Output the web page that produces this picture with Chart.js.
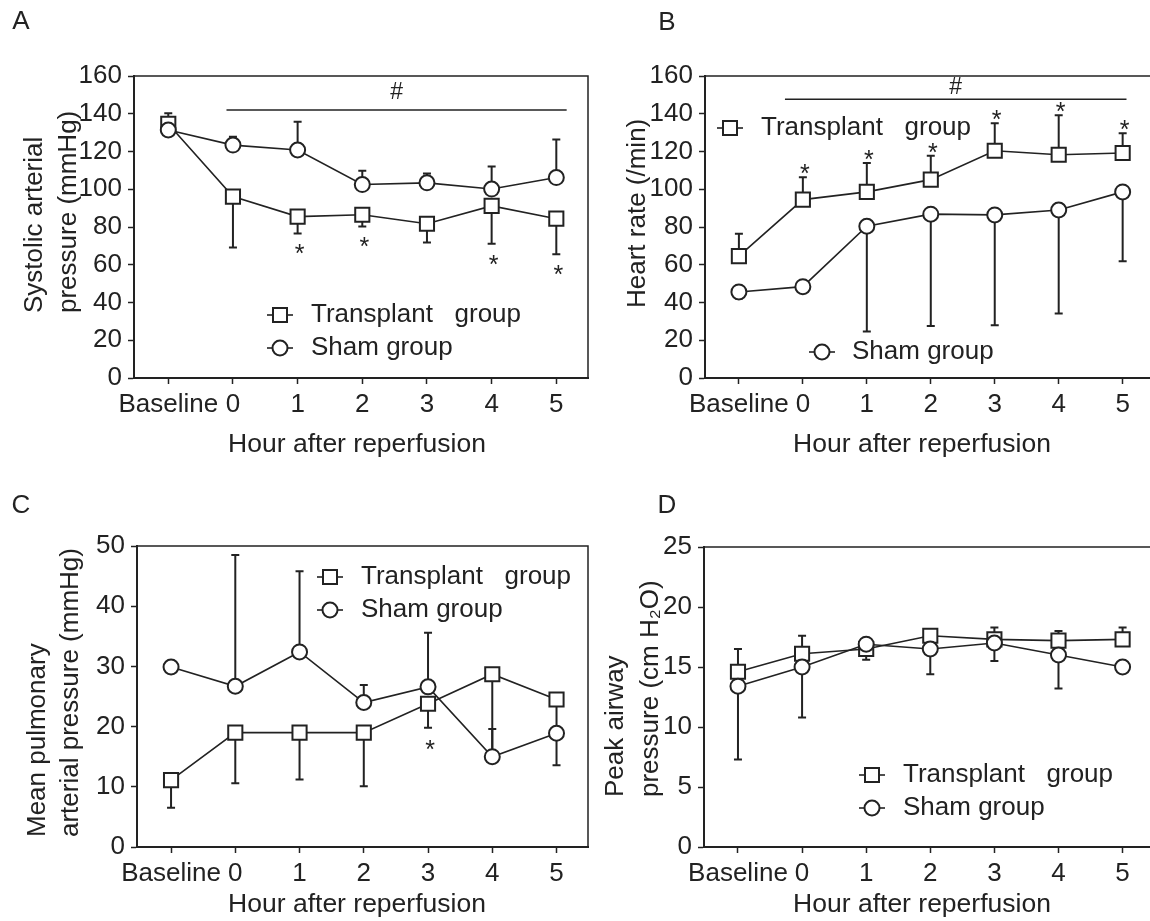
<!DOCTYPE html>
<html>
<head>
<meta charset="utf-8">
<script src="https://cdn.jsdelivr.net/npm/chart.js@4.4.1/dist/chart.umd.min.js"></script>
<style>
  html, body { margin: 0; padding: 0; background: #fff; width: 1150px; height: 921px; overflow: hidden; }
  canvas { position: absolute; }
</style>
</head>
<body>
<canvas id="pA" width="600" height="460" style="left:0;top:0"></canvas>
<canvas id="pB" width="600" height="460" style="left:575px;top:0"></canvas>
<canvas id="pC" width="600" height="461" style="left:0;top:460px"></canvas>
<canvas id="pD" width="600" height="461" style="left:575px;top:460px"></canvas>
<script>
const hours = ['Baseline', '0', '1', '2', '3', '4', '5'];

// mean values and one-sided SD (positive = bar drawn up, negative = down)
// A: systolic arterial pressure (mmHg)
const sapTransplant = [134.6, 96.1, 85.5, 86.5, 81.7, 91.2, 84.4];
const sapTransplantSd = [5.6, -26.9, -8.9, -6.2, -9.9, -20.1, -18.8];
const sapSham = [131.4, 123.4, 120.8, 102.5, 103.4, 100.1, 106.2];
const sapShamSd = [0, 4.4, 15.0, 7.3, 5.0, 11.9, 20.2];
const sapStars = [2, 3, 5, 6];

// B: heart rate (/min)
const hrTransplant = [64.6, 94.5, 98.6, 105.1, 120.4, 118.3, 119.2];
const hrTransplantSd = [11.8, 11.8, 15.3, 12.6, 14.6, 20.9, 10.5];
const hrSham = [45.6, 48.4, 80.4, 86.8, 86.4, 89.0, 98.6];
const hrShamSd = [-3.5, 0, -55.7, -59.2, -58.4, -54.8, -36.7];
const hrStars = [1, 2, 3, 4, 5, 6];

// C: mean pulmonary arterial pressure (mmHg)
const mpapTransplant = [11.1, 19.0, 19.0, 19.0, 23.8, 28.7, 24.5];
const mpapTransplantSd = [-4.6, -8.4, -7.8, -8.9, -4.0, -13.2, -5.5];
const mpapSham = [29.9, 26.7, 32.4, 24.0, 26.6, 15.0, 18.9];
const mpapShamSd = [0, 21.8, 13.4, 2.9, 9.0, 4.6, -5.3];
const mpapStars = [4];

// D: peak airway pressure (cm H2O)
const pawTransplant = [14.6, 16.1, 16.5, 17.6, 17.3, 17.2, 17.3];
const pawTransplantSd = [1.9, 1.5, -0.9, 0.5, 1.0, 0.8, 1.0];
const pawSham = [13.4, 15.0, 16.9, 16.5, 17.0, 16.0, 15.0];
const pawShamSd = [-6.1, -4.2, 0, -2.1, -1.5, -2.8, 0];

const INK = '#222';
const FONT = '"Liberation Sans", Arial, Helvetica, sans-serif';

const toPoints = vals => vals.map((v, i) => ({ x: i, y: v }));

function marker(ctx, style, x, y) {
  ctx.beginPath();
  if (style === 'rect') ctx.rect(x - 7, y - 7, 14, 14);
  else ctx.arc(x, y, 7.5, 0, Math.PI * 2);
  ctx.fillStyle = '#fff';
  ctx.fill();
  ctx.stroke();
}

// error bars, frame, significance marks, legend, titles
function decor(p) {
  const bars = [[p.trans, p.transSd], [p.sham, p.shamSd]];
  return {
    id: 'decor',
    beforeDatasetsDraw(chart) {
      const { ctx, scales: { x, y } } = chart;
      ctx.save();
      ctx.strokeStyle = INK;
      ctx.lineWidth = 2;
      bars.forEach(([vals, sds]) => vals.forEach((v, i) => {
        if (!sds[i]) return;
        const px = x.getPixelForValue(i);
        const p0 = y.getPixelForValue(v), p1 = y.getPixelForValue(v + sds[i]);
        ctx.beginPath();
        ctx.moveTo(px, p0); ctx.lineTo(px, p1);
        ctx.moveTo(px - 4, p1); ctx.lineTo(px + 4, p1);
        ctx.stroke();
      }));
      ctx.restore();
    },
    afterDraw(chart) {
      const { ctx, chartArea: a, scales: { x, y } } = chart;
      ctx.save();
      ctx.strokeStyle = INK;
      ctx.fillStyle = INK;

      // top / right frame
      ctx.lineWidth = 1.5;
      ctx.beginPath();
      ctx.moveTo(a.left, a.top); ctx.lineTo(a.right, a.top); ctx.lineTo(a.right, a.bottom);
      ctx.stroke();

      // # bar
      if (p.sig) {
        const x0 = x.getPixelForValue(p.sig.from), x1 = x.getPixelForValue(p.sig.to);
        const yy = y.getPixelForValue(p.sig.at);
        ctx.beginPath(); ctx.moveTo(x0, yy); ctx.lineTo(x1, yy); ctx.stroke();
        ctx.font = '23px ' + FONT;
        ctx.textAlign = 'center'; ctx.textBaseline = 'middle';
        ctx.fillText('#', (x0 + x1) / 2, yy - p.sig.gap);
      }

      // asterisks next to the transplant SD bars
      if (p.stars) {
        ctx.font = '25px ' + FONT;
        ctx.textAlign = 'center'; ctx.textBaseline = 'middle';
        p.stars.idx.forEach(i => {
          const sd = p.transSd[i];
          const end = y.getPixelForValue(p.trans[i] + sd);
          const yc = end + (sd < 0 ? p.stars.gap : -p.stars.gap);
          ctx.fillText('*', x.getPixelForValue(i) + 2, yc + 6);
        });
      }

      // legend
      ctx.font = '26px ' + FONT;
      ctx.textAlign = 'left'; ctx.textBaseline = 'middle';
      p.legend.forEach(e => {
        ctx.lineWidth = 1.6;
        ctx.beginPath(); ctx.moveTo(e.x - 13, e.y); ctx.lineTo(e.x + 13, e.y); ctx.stroke();
        ctx.lineWidth = 2;
        marker(ctx, e.style, e.x, e.y);
        ctx.fillStyle = INK;
        ctx.fillText(e.text, e.tx, e.y);
      });

      // x title
      ctx.font = '26.5px ' + FONT;
      ctx.textAlign = 'center'; ctx.textBaseline = 'alphabetic';
      ctx.fillText('Hour after reperfusion', p.xTitle.x, p.xTitle.y);

      // y title, lines start at the same height
      ctx.font = '26px ' + FONT;
      p.yTitle.lines.forEach((line, k) => {
        ctx.save();
        ctx.translate(p.yTitle.xs[k], p.yTitle.start);
        ctx.rotate(-Math.PI / 2);
        ctx.textAlign = 'left'; ctx.textBaseline = 'middle';
        ctx.fillText(line, 0, 0);
        ctx.restore();
      });

      // panel letter
      ctx.textAlign = 'center'; ctx.textBaseline = 'middle';
      ctx.fillText(p.letter.text, p.letter.x, p.letter.y);
      ctx.restore();
    }
  };
}

function panel(id, p) {
  const cv = document.getElementById(id);
  const yW = 64, xH = 45;
  const a = p.area;
  const tickFont = { family: FONT, size: 26 };
  const grid = { drawOnChartArea: false, drawTicks: true, tickLength: 6, tickWidth: 1.5, tickColor: INK };
  const border = { display: true, color: INK, width: 2 };
  const ds = (label, vals, style, radius, order) => ({
    label, data: toPoints(vals), order,
    borderColor: INK, borderWidth: 1.6, tension: 0, fill: false,
    pointStyle: style, pointRadius: radius, pointHoverRadius: radius,
    pointBorderWidth: 2, pointBorderColor: INK, pointBackgroundColor: '#fff'
  });
  return new Chart(cv, {
    type: 'line',
    data: {
      datasets: [
        ds('Transplant group', p.trans, 'rect', 10, 1),
        ds('Sham group', p.sham, 'circle', 7.5, 0)
      ]
    },
    options: {
      responsive: false,
      animation: false,
      events: [],
      layout: { padding: { left: a.left - yW, top: a.top, right: cv.width - a.right, bottom: cv.height - a.bottom - xH } },
      scales: {
        x: {
          type: 'linear', min: -0.53, max: 6.49,
          afterFit: s => { s.height = xH; },
          afterBuildTicks: s => { s.ticks = hours.map((_, i) => ({ value: i })); },
          grid, border,
          ticks: { callback: v => hours[v], autoSkip: false, maxRotation: 0, minRotation: 0, padding: 5, color: INK, font: tickFont }
        },
        y: {
          min: 0, max: p.yMax,
          afterFit: s => { s.width = yW; },
          grid, border,
          ticks: { stepSize: p.yStep, padding: 6, color: INK, font: tickFont }
        }
      },
      plugins: { legend: { display: false }, tooltip: { enabled: false } }
    },
    plugins: [decor(p)]
  });
}

const TX = 'Transplant\u00a0\u00a0 group';
const SH = 'Sham group';

panel('pA', {
  trans: sapTransplant, transSd: sapTransplantSd, sham: sapSham, shamSd: sapShamSd,
  yMax: 160, yStep: 20,
  area: { left: 134, right: 590, top: 76, bottom: 378 },
  sig: { from: 0.9, to: 6.16, at: 142, gap: 17 },
  stars: { idx: sapStars, gap: 16 },
  legend: [
    { style: 'rect', text: TX, x: 280, y: 315, tx: 311 },
    { style: 'circle', text: SH, x: 280, y: 348, tx: 311 }
  ],
  xTitle: { x: 357, y: 452 },
  yTitle: { lines: ['Systolic arterial', 'pressure (mmHg)'], xs: [35, 69], start: 313 },
  letter: { text: 'A', x: 21, y: 22 }
});

panel('pB', {
  trans: hrTransplant, transSd: hrTransplantSd, sham: hrSham, shamSd: hrShamSd,
  yMax: 160, yStep: 20,
  area: { left: 130, right: 579, top: 76, bottom: 378 },
  sig: { from: 0.72, to: 6.06, at: 147.7, gap: 12 },
  stars: { idx: hrStars, gap: 8 },
  legend: [
    { style: 'rect', text: TX, x: 155, y: 128, tx: 186 },
    { style: 'circle', text: SH, x: 247, y: 352, tx: 277 }
  ],
  xTitle: { x: 347, y: 452 },
  yTitle: { lines: ['Heart rate (/min)'], xs: [63], start: 308 },
  letter: { text: 'B', x: 92, y: 23 }
});

panel('pC', {
  trans: mpapTransplant, transSd: mpapTransplantSd, sham: mpapSham, shamSd: mpapShamSd,
  yMax: 50, yStep: 10,
  area: { left: 137, right: 590, top: 86, bottom: 387 },
  stars: { idx: mpapStars, gap: 17 },
  legend: [
    { style: 'rect', text: TX, x: 330, y: 117, tx: 361 },
    { style: 'circle', text: SH, x: 330, y: 150, tx: 361 }
  ],
  xTitle: { x: 357, y: 452 },
  yTitle: { lines: ['Mean pulmonary', 'arterial pressure (mmHg)'], xs: [38, 71], start: 377 },
  letter: { text: 'C', x: 21, y: 46 }
});

panel('pD', {
  trans: pawTransplant, transSd: pawTransplantSd, sham: pawSham, shamSd: pawShamSd,
  yMax: 25, yStep: 5,
  area: { left: 129, right: 579, top: 87, bottom: 387 },
  legend: [
    { style: 'rect', text: TX, x: 297, y: 315, tx: 328 },
    { style: 'circle', text: SH, x: 297, y: 348, tx: 328 }
  ],
  xTitle: { x: 347, y: 452 },
  yTitle: { lines: ['Peak airway', 'pressure (cm H\u2082O)'], xs: [41, 76], start: 337 },
  letter: { text: 'D', x: 92, y: 46 }
});
</script>
</body>
</html>
